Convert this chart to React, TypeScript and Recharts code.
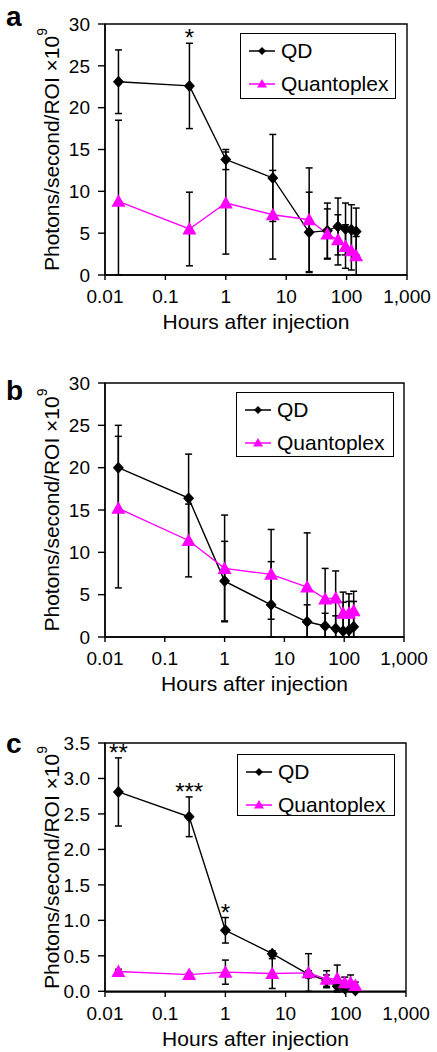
import React from 'react'
import { ComposedChart, Line, Scatter, XAxis, YAxis, ErrorBar, Legend, ReferenceArea } from 'recharts'

const FONT = '"Liberation Sans", Arial, Helvetica, sans-serif'
const MAGENTA = '#FF00FF'

// sampling times (h) shared by all three panels
const hours = [0.0167, 0.25, 1, 6, 24, 48, 72, 96, 120, 144]
const xTicks = [0.01, 0.1, 1, 10, 100, 1000]

type Err = number | [number, number]

// panel a
const qdA = [23.1, 22.6, 13.8, 11.6, 5.1, 5.3, 5.8, 5.5, 5.4, 5.2]
const qdErrA: Err[] = [3.8, 5.1, 1.2, 5.2, 4.8, 3.3, 3.4, 3.1, 3.0, 2.8]
const qpA = [8.8, 5.5, 8.6, 7.2, 6.6, 4.9, 4.2, 3.4, 2.9, 2.3]
const qpErrA: Err[] = [[8.8, 9.7], 4.4, 6.1, 5.3, 6.2, 3.0, 3.0, 2.6, 2.3, [2.3, 2.3]]
const starsA = ['', '*', '', '', '', '', '', '', '', '']
const yTicksA = [0, 5, 10, 15, 20, 25, 30]

// panel b
const qdB = [20.0, 16.4, 6.6, 3.8, 1.8, 1.3, 1.0, 0.7, 0.8, 1.2]
const qdErrB: Err[] = [5.0, 5.2, 4.7, [3.8, 5.1], [1.8, 2.0], [1.3, 1.5], [1.0, 1.5], [0.7, 3.4], [0.8, 3.4], [1.2, 3.0]]
const qpB = [15.2, 11.4, 8.1, 7.4, 5.9, 4.5, 4.6, 2.8, 2.8, 3.1]
const qpErrB: Err[] = [[9.4, 8.5], 4.3, 6.3, 5.3, [5.9, 6.4], [4.5, 3.6], [4.6, 3.2], [2.8, 2.5], [2.8, 2.3], [3.1, 2.3]]
const starsB = ['', '', '', '', '', '', '', '', '', '']
const yTicksB = [0, 5, 10, 15, 20, 25, 30]

// panel c
const qdC = [2.81, 2.46, 0.86, 0.53, 0.24, 0.15, 0.07, 0.04, 0.06, 0.01]
const qdErrC: Err[] = [0.48, 0.28, 0.18, 0.04, 0.05, 0.08, 0.06, 0.04, 0.05, [0.01, 0.02]]
const qpC = [0.28, 0.235, 0.27, 0.25, 0.26, 0.17, 0.18, 0.12, 0.12, 0.08]
const qpErrC: Err[] = [0.03, 0.02, 0.17, 0.21, [0.26, 0.27], 0.12, 0.19, 0.08, 0.11, 0.05]
const starsC = ['**', '***', '*', '', '', '', '', '', '', '']
const yTicksC = [0, 0.5, 1.0, 1.5, 2.0, 2.5, 3.0, 3.5]

function buildRows(qd: number[], qdErr: Err[], qp: number[], qpErr: Err[], stars: string[]) {
  return hours.map((t, i) => {
    const e = qdErr[i]
    const up = Array.isArray(e) ? e[1] : e
    return {
      t,
      qd: qd[i],
      qdErr: e,
      qp: qp[i],
      qpErr: qpErr[i],
      star: stars[i],
      starY: qd[i] + up,
    }
  })
}

const Diamond = (p: any) => {
  const { cx, cy } = p
  if (cx == null || cy == null) return <g />
  return <polygon points={`${cx},${cy - 6} ${cx + 5.5},${cy} ${cx},${cy + 6} ${cx - 5.5},${cy}`} fill="#000" />
}

const Triangle = (p: any) => {
  const { cx, cy } = p
  if (cx == null || cy == null) return <g />
  return <polygon points={`${cx},${cy - 7} ${cx + 7},${cy + 5.5} ${cx - 7},${cy + 5.5}`} fill={MAGENTA} />
}

// asterisks sit just above the top of the QD error bar
const StarMark = (p: any) => (
  <text x={p.cx} y={p.cy + 3} textAnchor="middle" fontSize={24} fontFamily={FONT} fill="#000">
    {p.payload.star}
  </text>
)

function YLabel({ viewBox }: any) {
  const cx = viewBox.x + 51
  const cy = viewBox.y + viewBox.height / 2
  return (
    <text x={cx} y={cy} transform={`rotate(-90 ${cx} ${cy})`} textAnchor="middle" dominantBaseline="central"
      fontSize={21} fontFamily={FONT} fill="#000">
      Photons/second/ROI ×10<tspan dy={-9} fontSize={14}>9</tspan>
    </text>
  )
}

function XLabel({ viewBox }: any) {
  const { x, y, width } = viewBox
  return (
    <text x={x + width / 2} y={y + 54} textAnchor="middle" fontSize={21} fontFamily={FONT} fill="#000">
      Hours after injection
    </text>
  )
}

function LegendBox({ padTop }: { padTop: number }) {
  const row = (name: string, color: string, marker: React.ReactNode) => (
    <div style={{ display: 'flex', alignItems: 'center', height: 33 }}>
      <svg width={40} height={20} style={{ flex: 'none' }}>
        <line x1={8} y1={10} x2={34} y2={10} stroke={color} strokeWidth={1.5} />
        {marker}
      </svg>
      <span style={{ fontSize: 21, fontFamily: FONT, color: '#000', lineHeight: '21px' }}>{name}</span>
    </div>
  )
  return (
    <div style={{ border: '1.4px solid #000', background: '#fff', paddingTop: padTop, boxSizing: 'border-box', width: '100%', height: '100%' }}>
      {row('QD', '#000', <polygon points="21,6 25,10 21,14 17,10" fill="#000" />)}
      {row('Quantoplex', MAGENTA, <polygon points="21,5 26,13.5 16,13.5" fill={MAGENTA} />)}
    </div>
  )
}

interface PanelProps {
  top: number
  rows: ReturnType<typeof buildRows>
  yTicks: number[]
  decimals: number
  plotHeight: number
  marginRight: number
  xHeight: number
  legend: { top: number; left: number; width: number; height: number; padTop: number }
}

function Panel({ top, rows, yTicks, decimals, plotHeight, marginRight, xHeight, legend }: PanelProps) {
  const yMax = yTicks[yTicks.length - 1]
  const starRows = rows.filter(r => r.star)
  const height = 24 + plotHeight + xHeight
  return (
    <div style={{ position: 'absolute', left: 0, top, width: 437, height }}>
      <ComposedChart width={437} height={height} data={rows} margin={{ top: 24, right: marginRight, bottom: 0, left: 0 }}>
        <XAxis
          dataKey="t"
          type="number"
          scale="log"
          domain={[0.01, 1000]}
          ticks={xTicks}
          tickFormatter={(v: number) => (v >= 1000 ? v.toLocaleString('en-US') : String(v))}
          tick={{ fontSize: 19, fill: '#000', fontFamily: FONT }}
          tickSize={5}
          tickMargin={10}
          axisLine={{ stroke: '#000', strokeWidth: 1.4 }}
          tickLine={{ stroke: '#000', strokeWidth: 1.4 }}
          height={xHeight}
          label={<XLabel />}
        />
        <YAxis
          type="number"
          domain={[0, yMax]}
          ticks={yTicks}
          interval={0}
          tickFormatter={(v: number) => v.toFixed(decimals)}
          tick={{ fontSize: 19, fill: '#000', fontFamily: FONT }}
          tickSize={7}
          tickMargin={8}
          axisLine={{ stroke: '#000', strokeWidth: 1.4 }}
          tickLine={{ stroke: '#000', strokeWidth: 1.4 }}
          width={105}
          label={<YLabel />}
        />
        <ReferenceArea x1={0.01} x2={1000} y1={0} y2={yMax} fill="none" stroke="#000" strokeWidth={1.4} />
        <Line dataKey="qd" stroke="#000" strokeWidth={1.4} dot={Diamond} activeDot={false} isAnimationActive={false}>
          <ErrorBar dataKey="qdErr" direction="y" width={3.5} stroke="#000" strokeWidth={1.5} isAnimationActive={false} />
        </Line>
        <Line dataKey="qp" stroke={MAGENTA} strokeWidth={1.4} dot={Triangle} activeDot={false} isAnimationActive={false}>
          <ErrorBar dataKey="qpErr" direction="y" width={3.5} stroke="#000" strokeWidth={1.5} isAnimationActive={false} />
        </Line>
        {starRows.length > 0 && (
          <Scatter data={starRows} dataKey="starY" shape={StarMark} legendType="none" isAnimationActive={false} />
        )}
        <Legend
          layout="horizontal"
          verticalAlign="middle"
          align="center"
          wrapperStyle={{ top: legend.top, left: legend.left, width: legend.width, height: legend.height }}
          content={() => <LegendBox padTop={legend.padTop} />}
        />
      </ComposedChart>
    </div>
  )
}

const rowsA = buildRows(qdA, qdErrA, qpA, qpErrA, starsA)
const rowsB = buildRows(qdB, qdErrB, qpB, qpErrB, starsB)
const rowsC = buildRows(qdC, qdErrC, qpC, qpErrC, starsC)

const letterStyle = { fontSize: 28, fontWeight: 'bold' as const, fontFamily: FONT, fill: '#000' }

export default function App() {
  return (
    <div style={{ position: 'absolute', left: 0, top: 0, width: 437, height: 1052, overflow: 'hidden', background: '#fff' }}>
      <Panel top={0} rows={rowsA} yTicks={yTicksA} decimals={0} plotHeight={251} marginRight={30} xHeight={65}
        legend={{ top: 33, left: 240, width: 156, height: 66, padTop: 0 }} />
      <Panel top={359} rows={rowsB} yTicks={yTicksB} decimals={0} plotHeight={254} marginRight={33} xHeight={65}
        legend={{ top: 33, left: 236, width: 158, height: 65, padTop: 0 }} />
      <Panel top={719} rows={rowsC} yTicks={yTicksC} decimals={1} plotHeight={249} marginRight={31} xHeight={58}
        legend={{ top: 35, left: 237, width: 158, height: 62, padTop: 0 }} />
      <svg width={437} height={1052} style={{ position: 'absolute', left: 0, top: 0, pointerEvents: 'none' }}>
        <text x={6} y={26} {...letterStyle}>a</text>
        <text x={6} y={400} {...letterStyle}>b</text>
        <text x={6} y={753} {...letterStyle}>c</text>
      </svg>
    </div>
  )
}
